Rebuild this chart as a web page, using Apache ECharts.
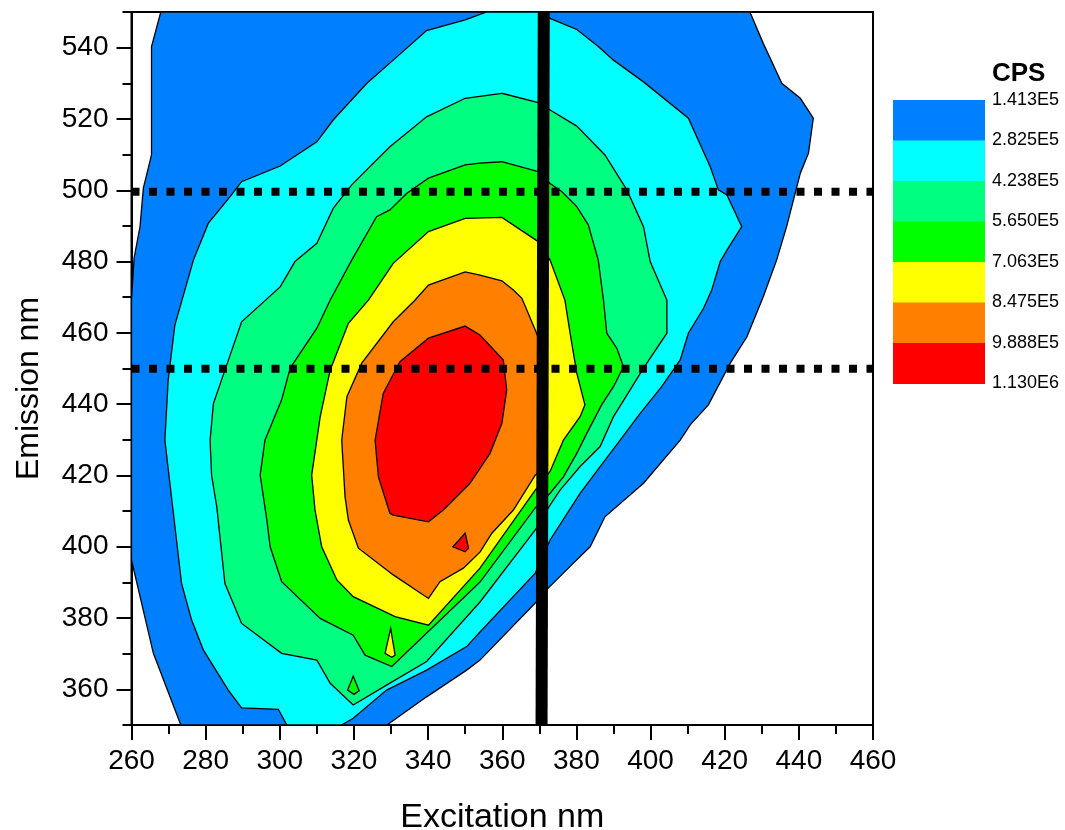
<!DOCTYPE html>
<html><head><meta charset="utf-8">
<script src="https://cdn.jsdelivr.net/npm/echarts@6/dist/echarts.min.js"></script>
<style>html,body{margin:0;padding:0;background:#fff}#c{width:1065px;height:830px}</style>
</head><body><div id="c"></div>
<script>
// ---- data (excitation nm, emission nm) ----
const xTickValues = [260,280,300,320,340,360,380,400,420,440,460];
const yTickValues = [360,380,400,420,440,460,480,500,520,540];
const levelLabels = ['1.413E5','2.825E5','4.238E5','5.650E5','7.063E5','8.475E5','9.888E5','1.130E6'];
const levelColors = ['#0080ff','#00ffff','#00ff80','#00ff00','#ffff00','#ff8000','#ff0000'];

// contour polygons (region where CPS >= level), in data coordinates
const level1 = [[267.9,550],[265.4,540.3],[265.4,509.9],[263.2,500.6],[262.3,489.8],[260.7,481],[260,469.2],[260,396.3],[265.9,370.1],[273.3,350],[328.9,350],[339.6,357.9],[350.4,365.4],[354.0,368.2],[368.9,384.2],[372.4,388.4],[379.2,395.4],[383.7,400.0],[387.7,408.4],[398.1,417.8],[408.0,429.9],[410.7,434.2],[415.6,439.8],[421.5,451.5],[426.0,458.9],[430.4,470.1],[434.0,480.4],[436.7,489.8],[439.0,499.1],[440.4,504.8],[442.6,510.4],[443.9,520.2],[440.4,525.8],[435.4,530.0],[430.4,541.2],[426.8,550]];
const level2 = [[355.8,550],[350.0,547.8],[339.6,544.8],[330.6,536.5],[323.5,530.0],[314.4,519.7],[310.0,513.6],[300.1,506.8],[289.7,502.4],[286.6,498.2],[280.7,490.7],[276.7,480.4],[271.7,462.2],[269.9,446.8],[269.0,429.9],[271.3,409.4],[273.5,389.7],[276.2,379.5],[279.4,371.0],[286.1,359.8],[289.7,354.8],[299.6,354.4],[301.9,350],[316.7,350],[319.8,351.9],[328.8,359.8],[339.6,365.4],[350.4,372.0],[354.0,376.1],[368.9,392.6],[372.9,401.9],[381.0,415.0],[386.4,422.5],[391.8,429.9],[397.2,437.4],[403.0,444.9],[408.0,452.4],[410.2,459.9],[414.3,466.9],[416.5,472.0],[418.8,480.0],[420.6,483.2],[424.6,489.8],[420.6,498.7],[418.3,500.1],[416.1,506.6],[410.2,520.2],[398.1,530.4],[390.0,536.5],[385.9,540.3],[380.1,545.1],[372.9,548.2],[371.0,550]];
const level3 = [[359.9,527.2],[350.0,525.8],[339.6,520.6],[329.7,512.2],[326.1,508.5],[319.4,501.5],[314.4,494.9],[310.0,485.1],[304.1,480.0],[300.1,472.9],[289.7,463.1],[284.3,446.8],[282.1,440.2],[281.2,429.9],[281.6,420.1],[283.0,411.2],[285.2,389.7],[289.7,378.5],[300.5,370.1],[310.0,368.2],[313.6,361.7],[319.8,355.6],[328.8,361.2],[339.6,367.8],[354.0,384.5],[368.9,404.7],[372.9,411.7],[375.6,415.9],[381.0,422.5],[386.4,428.1],[390.0,436.5],[394.5,444.0],[398.1,450.1],[404.4,459.9],[404.4,469.2],[399.9,480.0],[398.1,489.8],[393.6,500.1],[387.7,509.9],[380.1,518.0],[372.9,522.5],[369.7,524.6]];
const level4 = [[369.7,505.2],[359.9,508.0],[354.0,507.6],[350.0,507.1],[340.1,503.4],[334.2,499.1],[329.7,494.5],[326.1,492.6],[319.4,480.4],[313.6,469.2],[310.0,461.3],[302.8,450.1],[300.5,441.2],[296.0,429.9],[294.7,420.1],[296.5,407.5],[297.4,400.0],[300.5,390.2],[310.9,379.9],[319.8,375.2],[323.0,369.6],[330.2,366.4],[354.0,390.1],[368.9,410.9],[372.9,415.0],[376.5,419.6],[380.1,426.2],[382.8,431.8],[386.8,439.8],[390.0,444.9],[392.7,450.5],[390.9,455.7],[388.2,459.9],[387.3,469.2],[385.9,480.4],[383.2,490.3],[380.1,495.4],[376.1,499.6],[372.9,501.9]];
const level5 = [[323.9,469.2],[330.6,479.5],[340.1,488.4],[350.0,492.1],[359.9,492.4],[369.7,485.6],[372.9,480.4],[376.9,469.2],[378.3,459.9],[380.1,448.7],[382.3,439.8],[381.0,436.5],[376.5,429.9],[372.9,421.1],[368.9,415.9],[354.0,394.0],[340.1,378.0],[331.1,380.4],[319.8,386.0],[315.4,390.7],[311.3,400.0],[309.5,410.3],[308.6,420.1],[310.9,436.5],[313.6,449.6],[318.5,462.7]];
const level6 = [[336.5,469.2],[340.1,473.4],[350.0,477.1],[354.0,476.2],[359.9,474.6],[363.0,472.0],[365.3,469.7],[368.9,460.8],[370.5,456.6],[370.5,421.5],[368.9,420.1],[363.0,410.3],[357.2,403.8],[354.0,398.5],[349.5,394.0],[343.2,390.2],[340.1,385.5],[330.6,392.1],[321.2,399.6],[318.5,407.5],[317.6,414.0],[316.7,429.9],[318.1,442.1],[322.1,451.5],[330.6,463.1]];
const level7 = [[350.0,461.9],[354.0,459.4],[360.3,452.4],[361.2,444.0],[359.9,434.6],[356.7,426.2],[351.3,417.8],[344.1,410.3],[340.1,407.0],[330.6,408.9],[329.7,409.4],[326.6,419.6],[325.7,429.9],[327.9,443.0],[332.4,451.9],[340.1,458.5]];
// small islands
const islandRed = [[346.7,400.0],[350.0,403.8],[350.9,399.6],[350.0,398.6]];
const islandYellow = [[328.4,370.1],[329.9,377.1],[331.1,369.6],[330.2,369.0]];
const islandGreen = [[318.3,359.8],[319.8,363.7],[321.4,359.6],[320.0,358.6]];

const excitationLine = [[371.2,550],[370.6,350]];
const emissionCuts = [449.9, 499.6];

// ---- build ----
const polys = [
  {pts: level1, c: levelColors[0]},
  {pts: level2, c: levelColors[1]},
  {pts: level3, c: levelColors[2]},
  {pts: level4, c: levelColors[3]},
  {pts: level5, c: levelColors[4]},
  {pts: level6, c: levelColors[5]},
  {pts: level7, c: levelColors[6]},
  {pts: islandRed, c: levelColors[6]},
  {pts: islandYellow, c: levelColors[4]},
  {pts: islandGreen, c: levelColors[3]}
];

const FONT = '"Liberation Sans", Arial, Helvetica, sans-serif';
const chart = echarts.init(document.getElementById('c'), null, {renderer: 'canvas'});

const legendTop = 100, legendBlockH = 40.5, legendX = 893, legendW = 92;
const graphics = [];
levelColors.forEach((col, i) => {
  graphics.push({type: 'rect', left: legendX, top: legendTop + i * legendBlockH,
    shape: {width: legendW, height: legendBlockH + 0.5}, style: {fill: col}, silent: true});
});
levelLabels.forEach((t, i) => {
  graphics.push({type: 'text', x: 992, y: legendTop + i * legendBlockH,
    style: {text: t, fill: '#000', font: '18px ' + FONT, textAlign: 'left', textVerticalAlign: 'middle'}, silent: true});
});
graphics.push({type: 'text', x: 992, y: 74,
  style: {text: 'CPS', fill: '#000', font: 'bold 26px ' + FONT, textAlign: 'left', textVerticalAlign: 'middle'}, silent: true});

const axisLineStyle = {color: '#000', width: 2};
const option = {
  animation: false,
  backgroundColor: '#fff',
  grid: {left: 131.5, right: 192, top: 12, bottom: 105, show: true, borderColor: '#000', borderWidth: 2,
    backgroundColor: 'transparent', containLabel: false, outerBoundsMode: 'none'},
  xAxis: {
    type: 'value', min: 260, max: 460, interval: 20,
    axisLine: {show: true, onZero: false, lineStyle: axisLineStyle},
    axisTick: {show: true, inside: false, length: 15, lineStyle: axisLineStyle},
    minorTick: {show: true, splitNumber: 2, length: 9, lineStyle: axisLineStyle},
    axisLabel: {fontSize: 28, color: '#000', fontFamily: FONT, margin: 22},
    splitLine: {show: false},
    name: 'Excitation nm', nameLocation: 'middle', nameGap: 76,
    nameTextStyle: {fontSize: 34, color: '#000', fontFamily: FONT}
  },
  yAxis: [
    {
      type: 'value', min: 350, max: 550, interval: 10,
      axisLine: {show: true, onZero: false, lineStyle: axisLineStyle},
      axisTick: {show: true, inside: false, length: 9, lineStyle: axisLineStyle},
      axisLabel: {show: false},
      splitLine: {show: false}
    },
    {
      type: 'value', min: 350, max: 550, interval: 10, position: 'left',
      axisLine: {show: false, onZero: false},
      axisTick: {show: true, inside: false, length: 15, customValues: yTickValues, lineStyle: axisLineStyle},
      axisLabel: {fontSize: 28, color: '#000', fontFamily: FONT, margin: 23, customValues: yTickValues,
        formatter: v => (v % 20 === 0 ? String(v) : '')},
      splitLine: {show: false},
      name: 'Emission nm', nameLocation: 'middle', nameGap: 86,
      nameTextStyle: {fontSize: 32, color: '#000', fontFamily: FONT, padding: [0, 40, 0, 0]}
    }
  ],
  graphic: graphics,
  series: [
    {
      type: 'custom', coordinateSystem: 'cartesian2d', xAxisIndex: 0, yAxisIndex: 0,
      silent: true, clip: true,
      data: polys.map((p, i) => [p.pts[0][0], p.pts[0][1], i]),
      encode: {x: 0, y: 1},
      renderItem: (params, api) => {
        const p = polys[params.dataIndex];
        return {type: 'polygon', shape: {points: p.pts.map(q => api.coord(q))},
          style: {fill: p.c, stroke: '#000', lineWidth: 1.3}};
      },
      z: 2
    },
    ...emissionCuts.map(yv => ({
      type: 'line', xAxisIndex: 0, yAxisIndex: 0, data: [[260, yv], [460, yv]], symbol: 'none', silent: true,
      lineStyle: {color: '#000', width: 8, type: [8, 9.5], cap: 'butt'}, z: 5
    })),
    {
      type: 'line', xAxisIndex: 0, yAxisIndex: 0, data: excitationLine, symbol: 'none', silent: true,
      lineStyle: {color: '#000', width: 12, cap: 'butt'}, z: 6
    }
  ]
};
chart.setOption(option);
</script>
</body></html>
